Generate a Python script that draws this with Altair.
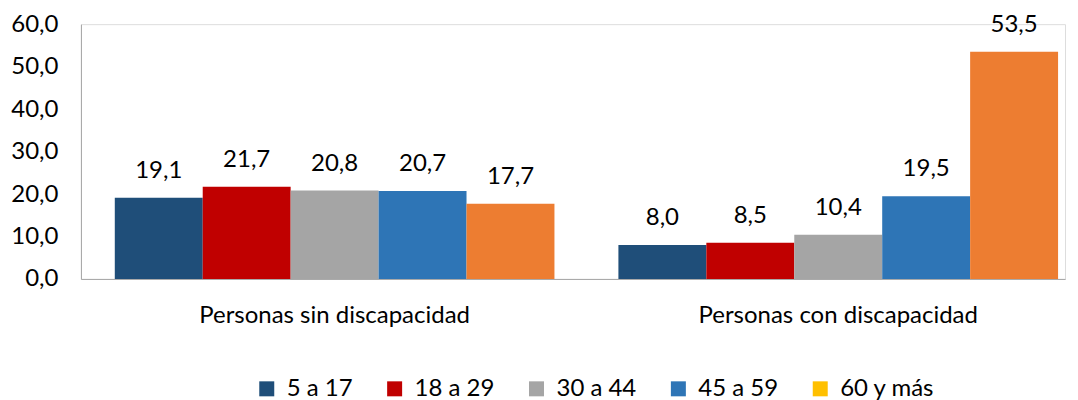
import altair as alt
import pandas as pd

groups = ["Personas sin discapacidad", "Personas con discapacidad"]
series = ["5 a 17", "18 a 29", "30 a 44", "45 a 59", "60 y más"]
values_sin = [19.1, 21.7, 20.8, 20.7, 17.7]
values_con = [8.0, 8.5, 10.4, 19.5, 53.5]
bar_colors = ["#1F4E79", "#C00000", "#A5A5A5", "#2E75B6", "#ED7D31"]
legend_colors = ["#1F4E79", "#C00000", "#A5A5A5", "#2E75B6", "#FFC000"]
y_ticks = [0, 10, 20, 30, 40, 50, 60]

rows = []
for g, vals in zip(groups, [values_sin, values_con]):
    for s, v in zip(series, vals):
        rows.append({"grupo": g, "edad": s, "valor": v})
df = pd.DataFrame(rows)

FONT = "Lato"
FS = 24

x_enc = alt.X("grupo:N", sort=groups,
              scale=alt.Scale(paddingInner=0.127, paddingOuter=0.0405, align=0.83),
              axis=alt.Axis(title=None, labelAngle=0, ticks=False, domainColor="#A6A6A6",
                            labelFont=FONT, labelFontSize=FS, labelColor="#000000",
                            labelPadding=25, labelLimit=0, labelFontWeight="normal"))
y_enc = alt.Y("valor:Q", scale=alt.Scale(domain=[0, 60], nice=False),
              axis=alt.Axis(title=None, values=y_ticks, ticks=False, grid=False,
                            domainColor="#A6A6A6", labelFont=FONT, labelFontSize=FS,
                            labelColor="#000000", labelPadding=23,
                            labelExpr="replace(format(datum.value, '.1f'), '.', ',')"))
xo_enc = alt.XOffset("edad:N", sort=series, scale=alt.Scale(paddingInner=0, paddingOuter=0))

bars = alt.Chart(df).mark_bar(stroke=None).encode(
    x=x_enc, y=y_enc, xOffset=xo_enc,
    color=alt.Color("edad:N", sort=series,
                    scale=alt.Scale(domain=series, range=bar_colors), legend=None),
)

labels = alt.Chart(df).transform_calculate(
    txt="replace(format(datum.valor, '.1f'), '.', ',')"
).mark_text(font=FONT, fontSize=FS, color="#000000", baseline="alphabetic", dy=-20).encode(
    x=x_enc, y=y_enc, xOffset=xo_enc, text="txt:N"
)

legend_layer = alt.Chart(df).transform_filter("false").mark_square().encode(
    color=alt.Color("edad:N", sort=series,
                    scale=alt.Scale(domain=series, range=legend_colors),
                    legend=alt.Legend(title=None, orient="none", legendX=174, legendY=353,
                                      direction="horizontal", columns=5,
                                      symbolType="square", symbolSize=225,
                                      symbolStrokeWidth=0, symbolOpacity=1,
                                      labelFont=FONT, labelFontSize=FS, labelColor="#000000",
                                      labelOffset=8, columnPadding=30))
)

chart = alt.layer(bars, labels, legend_layer).resolve_scale(color="independent").properties(
    width=985, height=255,
    autosize=alt.AutoSizeParams(type="none"),
    padding={"left": 73, "top": 16, "right": 5, "bottom": 121},
).configure_view(stroke=None).configure(background="#FFFFFF")

chart.save("out.html", embed_options={"renderer": "svg", "actions": False})
